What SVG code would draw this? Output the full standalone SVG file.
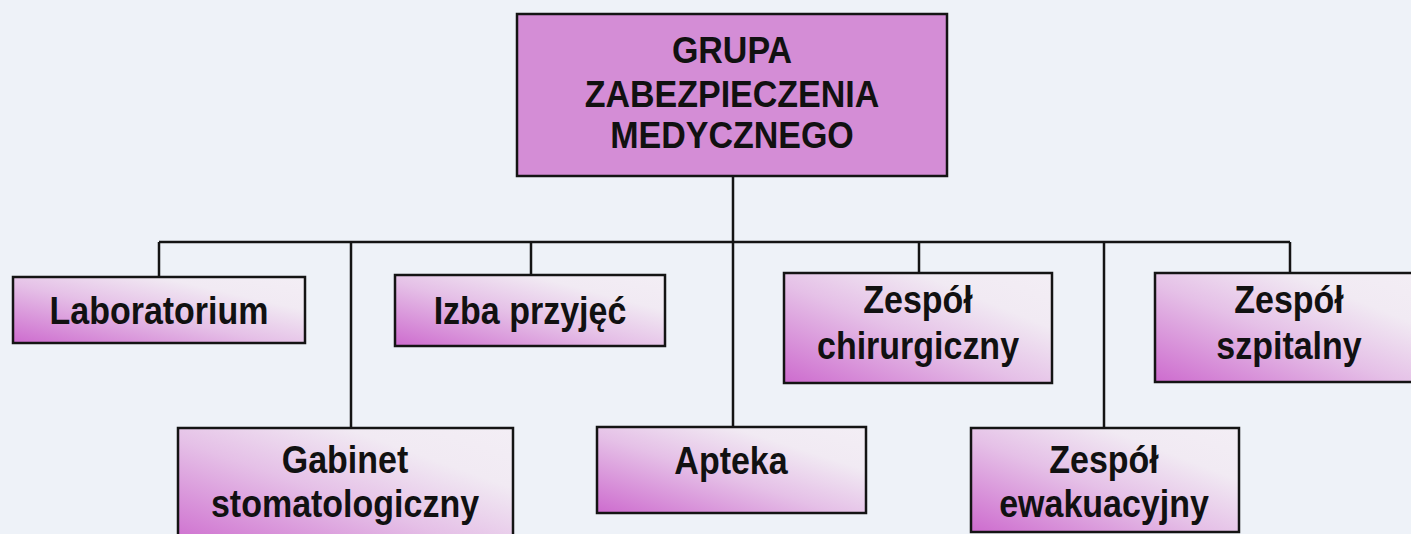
<svg xmlns="http://www.w3.org/2000/svg" width="1411" height="534" viewBox="0 0 1411 534">
<defs>
<linearGradient id="g" x1="0" y1="1" x2="1" y2="0">
<stop offset="0" stop-color="#cd6bce"/>
<stop offset="0.45" stop-color="#e5c0e7"/>
<stop offset="0.75" stop-color="#f1eaf3"/>
<stop offset="1" stop-color="#f3eef5"/>
</linearGradient>
</defs>
<style>
.box{fill:url(#g);stroke:#141414;stroke-width:2.5}
.root{fill:#d48dd6;stroke:#141414;stroke-width:2.5}
.t{font-family:"Liberation Sans",Arial,sans-serif;font-weight:bold;font-size:34px;fill:#111;text-anchor:middle}
.c{fill:none;stroke:#141414;stroke-width:2.5}
</style>
<rect width="1411" height="534" fill="#eef2f8"/>
<g id="connectors">
<path class="c" d="M733 176V242M159 242H1290M159 242V277M351 242V428M531 242V275M733 242V427M919 242V273M1104 242V428M1290 242V273"/>
</g>
<g id="root">
<rect class="root" x="517" y="14" width="430" height="162"/>
<text class="t" transform="translate(732 63) scale(1 1.08)">GRUPA</text>
<text class="t" transform="translate(732 107) scale(1 1.08)">ZABEZPIECZENIA</text>
<text class="t" transform="translate(732 148) scale(1 1.08)">MEDYCZNEGO</text>
</g>
<g id="laboratorium">
<rect class="box" x="13" y="277" width="292" height="66"/>
<text class="t" transform="translate(159 324) scale(1 1.14)">Laboratorium</text>
</g>
<g id="izba">
<rect class="box" x="395" y="275" width="270" height="71"/>
<text class="t" transform="translate(530 324) scale(1 1.14)">Izba przyjęć</text>
</g>
<g id="chirurgiczny">
<rect class="box" x="784" y="273" width="268" height="110"/>
<text class="t" transform="translate(918 313) scale(1 1.12)">Zespół</text>
<text class="t" transform="translate(918 359) scale(1 1.12)">chirurgiczny</text>
</g>
<g id="szpitalny">
<rect class="box" x="1155" y="273" width="270" height="109"/>
<text class="t" transform="translate(1289 313) scale(1 1.12)">Zespół</text>
<text class="t" transform="translate(1289 359) scale(1 1.12)">szpitalny</text>
</g>
<g id="gabinet">
<rect class="box" x="178" y="428" width="335" height="120"/>
<text class="t" transform="translate(345 473) scale(1 1.12)">Gabinet</text>
<text class="t" transform="translate(345 517) scale(1 1.12)">stomatologiczny</text>
</g>
<g id="apteka">
<rect class="box" x="597" y="427" width="269" height="86"/>
<text class="t" transform="translate(731 474) scale(1 1.14)">Apteka</text>
</g>
<g id="ewakuacyjny">
<rect class="box" x="971" y="428" width="268" height="104"/>
<text class="t" transform="translate(1104 473) scale(1 1.12)">Zespół</text>
<text class="t" transform="translate(1104 517) scale(1 1.12)">ewakuacyjny</text>
</g>
</svg>
